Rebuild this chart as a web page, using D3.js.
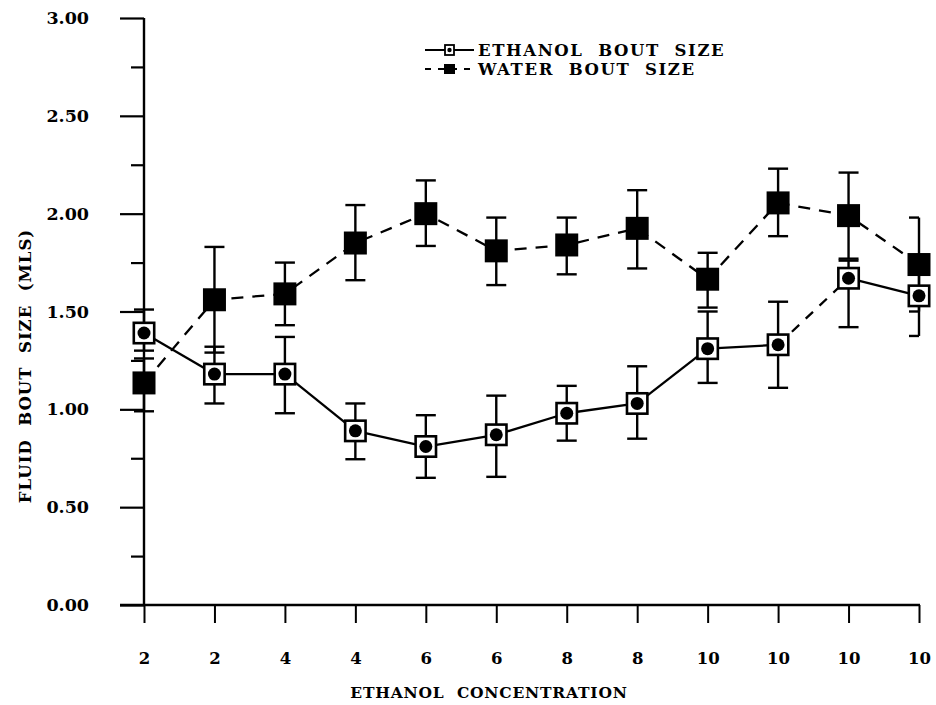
<!DOCTYPE html>
<html>
<head>
<meta charset="utf-8">
<script src="https://cdn.jsdelivr.net/npm/d3@7"></script>
<style>
  html, body { margin: 0; padding: 0; background: #fff; }
  svg text { font-family: "DejaVu Serif", "Liberation Serif", serif; font-weight: bold; fill: #000; white-space: pre; }
</style>
</head>
<body>
<svg id="chart" width="936" height="705"></svg>
<script>
// ---- data ----
const categories = ["2", "2", "4", "4", "6", "6", "8", "8", "10", "10", "10", "10"];
const ethanolMean  = [1.39, 1.18, 1.18, 0.89, 0.81, 0.87, 0.98, 1.03, 1.31, 1.33, 1.67, 1.58];
const ethanolUpper = [1.51, 1.32, 1.37, 1.03, 0.97, 1.07, 1.12, 1.22, 1.50, 1.55, 1.76, 1.72];
const ethanolLower = [1.30, 1.03, 0.98, 0.745, 0.65, 0.655, 0.84, 0.85, 1.135, 1.11, 1.42, 1.375];
const waterMean    = [1.135, 1.56, 1.59, 1.85, 2.00, 1.81, 1.84, 1.925, 1.665, 2.055, 1.99, 1.74];
const waterUpper   = [1.26, 1.83, 1.75, 2.044, 2.17, 1.98, 1.98, 2.12, 1.80, 2.23, 2.21, 1.98];
const waterLower   = [0.99, 1.29, 1.43, 1.66, 1.835, 1.635, 1.69, 1.72, 1.52, 1.885, 1.77, 1.50];
const yMajorTicks  = [0, 0.5, 1.0, 1.5, 2.0, 2.5, 3.0];
const yMinorTicks  = [0.25, 0.75, 1.25, 1.75, 2.25, 2.75];
const legendLabels = ["ETHANOL  BOUT  SIZE", "WATER  BOUT  SIZE"];
const xTitle = "ETHANOL  CONCENTRATION";
const yTitle = "FLUID  BOUT  SIZE  (MLS)";

// ---- layout ----
const svg = d3.select("#chart");
const x0 = 144, x1 = 919, yTop = 18, yBot = 605;
const idx = d3.range(categories.length);
const x = d3.scalePoint().domain(idx).range([x0, x1]);
const y = d3.scaleLinear().domain([0, 3]).range([yBot, yTop]);

// ---- axes ----
const gy = svg.append("g").attr("transform", `translate(${x0},0)`);
gy.call(d3.axisLeft(y).tickValues(yMajorTicks).tickSize(24).tickSizeOuter(0)
  .tickPadding(31).tickFormat(d3.format(".2f")));
gy.select(".domain").remove();
gy.selectAll(".tick line").attr("stroke", "#000").attr("stroke-width", 2.2);
gy.selectAll(".tick text").style("font-size", "17.5px").attr("font-family", null);
const gyMinor = svg.append("g").attr("transform", `translate(${x0},0)`);
gyMinor.call(d3.axisLeft(y).tickValues(yMinorTicks).tickSize(13).tickFormat(""));
gyMinor.select(".domain").remove();
gyMinor.selectAll(".tick line").attr("stroke", "#000").attr("stroke-width", 2.2);

const gx = svg.append("g").attr("transform", `translate(0,${yBot})`);
gx.call(d3.axisBottom(x).tickSize(18).tickSizeOuter(0).tickPadding(29)
  .tickFormat(i => categories[i]));
gx.select(".domain").remove();
gx.selectAll(".tick line").attr("stroke", "#000").attr("stroke-width", 2);
gx.selectAll(".tick text").style("font-size", "16.5px").attr("font-family", null);

// axis lines
svg.append("line").attr("x1", x0).attr("x2", x0).attr("y1", y(3)).attr("y2", y(0))
  .attr("stroke", "#000").attr("stroke-width", 2.4);
svg.append("line").attr("x1", x0 - 24).attr("x2", x1 + 1).attr("y1", y(0)).attr("y2", y(0))
  .attr("stroke", "#000").attr("stroke-width", 2.4);

// titles
svg.append("text").attr("x", 489).attr("y", 698).attr("text-anchor", "middle")
  .style("font-size", "15.5px").style("letter-spacing", "0.8px").text(xTitle);
svg.append("text").attr("transform", "translate(31,366) rotate(-90)").attr("text-anchor", "middle")
  .style("font-size", "16.5px").style("letter-spacing", "1px").text(yTitle);

// ---- lines ----
const lineGen = d3.line().x((d, i) => x(i)).y(d => y(d));
svg.append("path").datum(waterMean).attr("d", lineGen).attr("fill", "none")
  .attr("stroke", "#000").attr("stroke-width", 2.3).attr("stroke-dasharray", "12,9");

// ethanol: solid segments except segment 9->10 which is dashed in the original
idx.slice(0, -1).forEach(i => {
  svg.append("line")
    .attr("x1", x(i)).attr("y1", y(ethanolMean[i]))
    .attr("x2", x(i + 1)).attr("y2", y(ethanolMean[i + 1]))
    .attr("stroke", "#000").attr("stroke-width", 2.3)
    .attr("stroke-dasharray", i === 9 ? "10,9" : null);
});

// ---- error bars ----
function errorBars(upper, lower) {
  const g = svg.append("g");
  idx.forEach(i => {
    const cx = x(i);
    const capL = cx - 10, capR = Math.min(cx + 10, x1);
    g.append("line").attr("x1", cx).attr("x2", cx).attr("y1", y(upper[i])).attr("y2", y(lower[i]))
      .attr("stroke", "#000").attr("stroke-width", 2.4);
    [upper[i], lower[i]].forEach(v => {
      g.append("line").attr("x1", capL).attr("x2", capR).attr("y1", y(v)).attr("y2", y(v))
        .attr("stroke", "#000").attr("stroke-width", 2.4);
    });
  });
}
errorBars(waterUpper, waterLower);
errorBars(ethanolUpper, ethanolLower);

// ---- markers ----
const S = 23;
svg.append("g").selectAll("rect").data(waterMean).join("rect")
  .attr("x", (d, i) => x(i) - S / 2).attr("y", d => y(d) - S / 2)
  .attr("width", S).attr("height", S).attr("fill", "#000");
const eg = svg.append("g").selectAll("g").data(ethanolMean).join("g")
  .attr("transform", (d, i) => `translate(${x(i)},${y(d)})`);
eg.append("rect").attr("x", -S / 2 + 1.3).attr("y", -S / 2 + 1.3).attr("width", S - 2.6).attr("height", S - 2.6)
  .attr("fill", "#fff").attr("stroke", "#000").attr("stroke-width", 2.6);
eg.append("circle").attr("r", 6.5).attr("fill", "#000");

// ---- legend ----
const lg = svg.append("g");
const lx0 = 425, lx1 = 474, ly = [50, 69];
lg.append("line").attr("x1", lx0).attr("x2", lx1).attr("y1", ly[0]).attr("y2", ly[0])
  .attr("stroke", "#000").attr("stroke-width", 2);
lg.append("rect").attr("x", 445).attr("y", ly[0] - 5).attr("width", 9).attr("height", 10)
  .attr("fill", "#fff").attr("stroke", "#000").attr("stroke-width", 1.8);
lg.append("circle").attr("cx", 449.5).attr("cy", ly[0]).attr("r", 2.2).attr("fill", "#000");
lg.append("line").attr("x1", lx0).attr("x2", lx1).attr("y1", ly[1]).attr("y2", ly[1])
  .attr("stroke", "#000").attr("stroke-width", 2).attr("stroke-dasharray", "6,7");
lg.append("rect").attr("x", 444).attr("y", ly[1] - 5).attr("width", 11).attr("height", 10).attr("fill", "#000");
legendLabels.forEach((t, i) => {
  lg.append("text").attr("x", 478).attr("y", ly[i] + 6).style("font-size", "16.5px")
    .style("letter-spacing", "1.6px").text(t);
});
</script>
</body>
</html>
